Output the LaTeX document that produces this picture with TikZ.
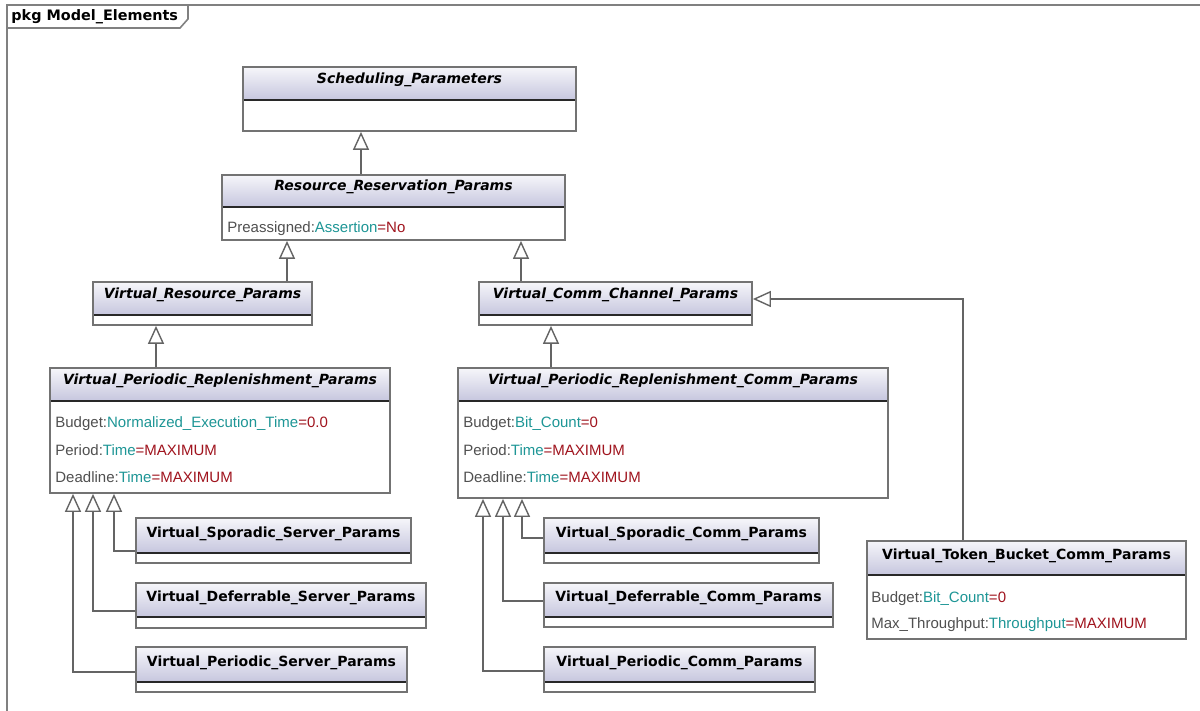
\documentclass[tikz,border=0pt]{standalone}
\usepackage{fontspec}
\setmainfont{Liberation Sans}
\newfontfamily\titlefont{DejaVu Sans}
\usetikzlibrary{arrows.meta,fit}

\definecolor{framec}{RGB}{128,128,128}
\definecolor{boxc}{RGB}{115,115,115}
\definecolor{divc}{RGB}{40,40,40}
\definecolor{connc}{RGB}{100,100,100}
\definecolor{hdrtop}{RGB}{246,246,250}
\definecolor{hdrbot}{RGB}{198,198,222}
\definecolor{lblc}{RGB}{80,80,80}
\definecolor{typc}{RGB}{30,150,150}
\definecolor{valc}{RGB}{160,20,30}

\tikzset{
  boxframe/.style={draw=boxc, line width=0.9pt, inner sep=0pt},
  divline/.style={draw=divc, line width=0.8pt},
  abstitle/.style={font=\titlefont\fontsize{7}{8.4}\selectfont\bfseries\itshape, inner sep=0pt, anchor=base},
  contitle/.style={font=\titlefont\fontsize{7}{8.4}\selectfont\bfseries, inner sep=0pt, anchor=base},
  attrtext/.style={font=\fontsize{7.5}{9}\selectfont, inner sep=0pt, anchor=base west},
  gen/.style={draw=connc, line width=0.7pt,
    -{Triangle[open, length=9pt, width=8pt, fill=white]}},
}

% \umlclass{name}{x1}{y1}{x2}{ydiv}{y2}{title style}{title}
\newcommand\umlclass[8]{%
  \shade[top color=hdrtop, bottom color=hdrbot] (#2,#3) rectangle (#4,#5);
  \fill[white] (#2,#5) rectangle (#4,#6);
  \draw[divline] (#2,#5) -- (#4,#5);
  \node[boxframe, fit={(#2,#3) (#4,#6)}] (#1) {};
  \node[#7] (#1-t) at ({(#2+#4)/2},{#5-16}) {#8};
}

% \umlattr{name}{x}{baseline}{label}{type}{value}
\newcommand\umlattr[6]{%
  \node[attrtext] (#1) at (#2,#3)
    {\textcolor{lblc}{#4:}\textcolor{typc}{#5}\textcolor{valc}{=#6}};
}

\begin{document}
\begin{tikzpicture}[x=0.5pt, y=-0.5pt]
\useasboundingbox (0,0) rectangle (1200,711);

% package frame and its name tab
\draw[framec, line width=1pt] (7,740) -- (7,5) -- (1220,5);
\draw[framec, line width=0.8pt] (188,5) -- (188,19) -- (180,28) -- (7,28);
\node[font=\titlefont\fontsize{7.2}{8.6}\selectfont\bfseries, inner sep=0pt, anchor=base west]
  (pkg) at (11,21) {pkg Model\_Elements};

% class hierarchy
\umlclass{sp}{243}{67}{576}{100}{131}{abstitle}{Scheduling\_Parameters}
\umlclass{rrp}{222}{175}{565}{207}{240}{abstitle}{Resource\_Reservation\_Params}
\umlattr{rrp-a1}{227}{233}{Preassigned}{Assertion}{No}

\umlclass{vrp}{93}{282}{312}{315}{325}{abstitle}{Virtual\_Resource\_Params}
\umlclass{vccp}{479}{282}{752}{315}{325}{abstitle}{Virtual\_Comm\_Channel\_Params}

\umlclass{vprp}{50}{368}{390}{401}{493}{abstitle}{Virtual\_Periodic\_Replenishment\_Params}
\umlattr{vprp-a1}{55}{428}{Budget}{Normalized\_Execution\_Time}{0.0}
\umlattr{vprp-a2}{55}{455}{Period}{Time}{MAXIMUM}
\umlattr{vprp-a3}{55}{482}{Deadline}{Time}{MAXIMUM}

\umlclass{vprcp}{458}{368}{888}{401}{498}{abstitle}{Virtual\_Periodic\_Replenishment\_Comm\_Params}
\umlattr{vprcp-a1}{463}{428}{Budget}{Bit\_Count}{0}
\umlattr{vprcp-a2}{463}{455}{Period}{Time}{MAXIMUM}
\umlattr{vprcp-a3}{463}{482}{Deadline}{Time}{MAXIMUM}

\umlclass{tb}{867}{541}{1186}{575}{639}{contitle}{Virtual\_Token\_Bucket\_Comm\_Params}
\umlattr{tb-a1}{871}{602}{Budget}{Bit\_Count}{0}
\umlattr{tb-a2}{871}{628}{Max\_Throughput}{Throughput}{MAXIMUM}

\umlclass{ssp}{136}{518}{411}{553}{563}{contitle}{Virtual\_Sporadic\_Server\_Params}
\umlclass{dsp}{136}{583}{426}{617}{628}{contitle}{Virtual\_Deferrable\_Server\_Params}
\umlclass{psp}{136}{647}{407}{682}{692}{contitle}{Virtual\_Periodic\_Server\_Params}

\umlclass{scp}{544}{518}{819}{553}{563}{contitle}{Virtual\_Sporadic\_Comm\_Params}
\umlclass{dcp}{544}{583}{833}{617}{627}{contitle}{Virtual\_Deferrable\_Comm\_Params}
\umlclass{pcp}{544}{647}{815}{682}{692}{contitle}{Virtual\_Periodic\_Comm\_Params}

% generalisations
\draw[gen] (361,0 |- rrp.north) -- (361,0 |- sp.south);
\draw[gen] (287,0 |- vrp.north) -- (287,0 |- rrp.south);
\draw[gen] (521,0 |- vccp.north) -- (521,0 |- rrp.south);
\draw[gen] (156,0 |- vprp.north) -- (156,0 |- vrp.south);
\draw[gen] (551,0 |- vprcp.north) -- (551,0 |- vccp.south);
\draw[gen] (963,0 |- tb.north) |- (vccp.east |- 0,299);

\draw[gen] (ssp.west |- 0,551) -| (114,0 |- vprp.south);
\draw[gen] (dsp.west |- 0,611) -| (93,0 |- vprp.south);
\draw[gen] (psp.west |- 0,672) -| (73,0 |- vprp.south);

\draw[gen] (scp.west |- 0,538) -| (522,0 |- vprcp.south);
\draw[gen] (dcp.west |- 0,601) -| (503,0 |- vprcp.south);
\draw[gen] (pcp.west |- 0,671) -| (483,0 |- vprcp.south);
\end{tikzpicture}
\end{document}
